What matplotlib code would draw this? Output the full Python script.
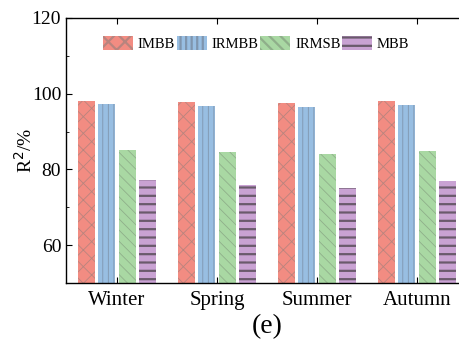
import matplotlib
matplotlib.use("Agg")
import matplotlib.pyplot as plt
import numpy as np

plt.rcParams['font.family'] = ['Liberation Serif', 'DejaVu Serif']

categories = ["Winter", "Spring", "Summer", "Autumn"]
series_names = ["IMBB", "IRMBB", "IRMSB", "MBB"]
imbb = [98.2, 97.8, 97.5, 98.1]
irmbb = [97.3, 96.7, 96.4, 96.9]
irmsb = [85.2, 84.7, 84.2, 84.9]
mbb = [77.2, 75.9, 75.2, 76.9]
values = [imbb, irmbb, irmsb, mbb]

colors = ['#F28C82', '#98BEE2', '#A9D8A3', '#C9A2D3']
hatches = ['xx', '|||', '\\\\\\', '--']
hatch_colors = ['#B8847E', '#7F95AE', '#8FAF8A', '#6A5A6C']
hatch_lw = [0.6, 0.6, 0.6, 1.6]

fig = plt.figure(figsize=(4.6, 3.39), dpi=100)
ax = fig.add_axes([66/460, 1-283/339, 402/460, (283-18)/339])

x = np.arange(len(categories))
width = 0.17
step = 0.205
for i, (name, vals) in enumerate(zip(series_names, values)):
    offs = (i - 1.5) * step
    plt.rcParams['hatch.linewidth'] = hatch_lw[i]
    bars = ax.bar(x + offs, vals, width, color=colors[i], label=name,
                  hatch=hatches[i], edgecolor=hatch_colors[i], linewidth=0)
    for b in bars:
        b._hatch_color = matplotlib.colors.to_rgba(hatch_colors[i])
        b._hatch_linewidth = hatch_lw[i]

ax.set_xlim(-0.51, 3.51)
ax.set_ylim(50, 120)
ax.set_yticks([60, 80, 100, 120])
ax.set_yticks([70, 90, 110], minor=True)
ax.set_xticks(x)
ax.set_xticklabels(categories)
ax.tick_params(axis='both', which='both', direction='in', labelsize=14, top=True)
ax.tick_params(axis='x', labelsize=15, pad=6, length=4)
ax.tick_params(axis='y', which='major', length=4)
ax.tick_params(axis='y', which='minor', length=2.5)
ax.spines['right'].set_visible(False)
for s in ax.spines.values():
    s.set_linewidth(1.0)
ax.set_ylabel('R$^2$/%', fontsize=14, labelpad=-3)
ax.set_xlabel('(e)', fontsize=20, labelpad=3)

leg = ax.legend(loc='upper center', bbox_to_anchor=(0.473, 0.97), ncol=4,
                frameon=False, fontsize=10.5, handlelength=2.05, handleheight=1.05,
                columnspacing=0.1, handletextpad=0.35, borderaxespad=0.3)

fig.savefig('out.png', dpi=100)
